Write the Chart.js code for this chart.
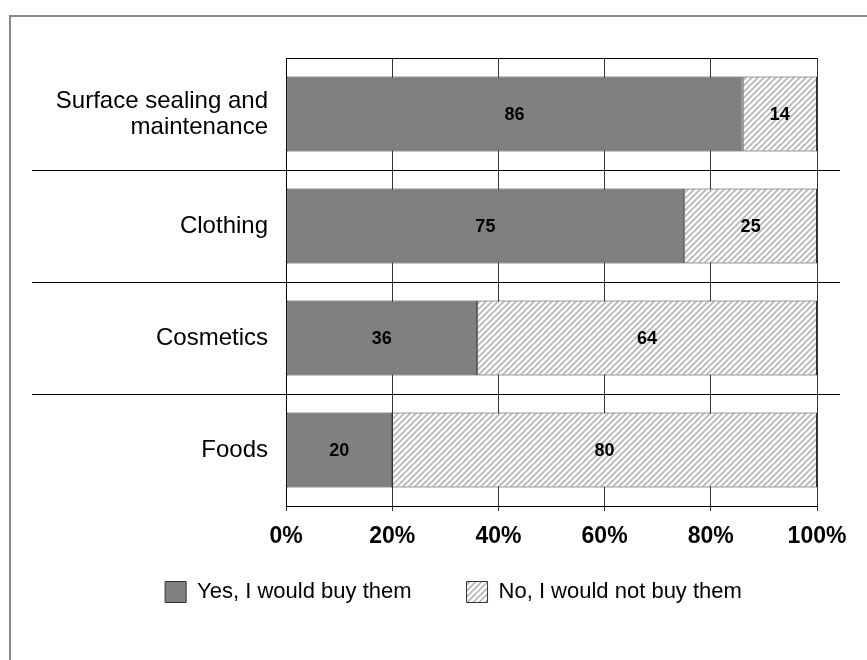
<!DOCTYPE html>
<html>
<head>
<meta charset="utf-8">
<script src="https://cdn.jsdelivr.net/npm/chart.js@4.4.1/dist/chart.umd.min.js"></script>
<style>
    html, body { margin: 0; padding: 0; background: #fff; }
    canvas { display: block; }
</style>
</head>
<body>
<canvas id="buyChart" width="867" height="660"></canvas>
<script>
    // Categories, series and axis labels
    const categories = [['Surface sealing and', 'maintenance'], 'Clothing', 'Cosmetics', 'Foods'];
    const yesValues = [86, 75, 36, 20];
    const noValues = [14, 25, 64, 80];
    const seriesNames = ['Yes, I would buy them', 'No, I would not buy them'];
    const xTickLabels = ['0%', '20%', '40%', '60%', '80%', '100%'];

    const fontFamily = "'Liberation Sans', Arial, sans-serif";

    // Diagonal stripe fill for the second series
    function makeHatch() {
        const size = 6;
        const tile = document.createElement('canvas');
        tile.width = size;
        tile.height = size;
        const tctx = tile.getContext('2d');
        const img = tctx.createImageData(size, size);
        for (let y = 0; y < size; y++) {
            for (let x = 0; x < size; x++) {
                const d = (x + y) % size;
                let v = 255;
                if (d === 0) v = 178;
                else if (d === 1) v = 192;
                else if (d === 2) v = 230;
                else if (d === 5) v = 236;
                const i = (y * size + x) * 4;
                img.data[i] = img.data[i + 1] = img.data[i + 2] = v;
                img.data[i + 3] = 255;
            }
        }
        tctx.putImageData(img, 0, 0);
        return tctx.createPattern(tile, 'repeat');
    }

    // Let tick labels run past the axis box instead of being clipped
    function noLabelClip(scale) {
        scale._computeLabelArea = () => undefined;
    }

    // Value text centred in each bar segment
    const segmentLabels = {
        id: 'segmentLabels',
        afterDatasetsDraw(chart) {
            const ctx = chart.ctx;
            ctx.save();
            ctx.font = 'bold 18px ' + fontFamily;
            ctx.fillStyle = '#000';
            ctx.textAlign = 'center';
            ctx.textBaseline = 'middle';
            chart.data.datasets.forEach((ds, di) => {
                const meta = chart.getDatasetMeta(di);
                meta.data.forEach((bar, i) => {
                    const p = bar.getProps(['x', 'y', 'base'], true);
                    ctx.fillText(String(ds.data[i]), (p.x + p.base) / 2, p.y + 1);
                });
            });
            ctx.restore();
        }
    };

    // Outer frame and long category separators
    const frameLines = {
        id: 'frameLines',
        beforeDraw(chart) {
            const ctx = chart.ctx;
            ctx.save();
            ctx.strokeStyle = '#8a8a8a';
            ctx.lineWidth = 2;
            ctx.beginPath();
            ctx.moveTo(10, chart.height);
            ctx.lineTo(10, 16);
            ctx.lineTo(chart.width, 16);
            ctx.stroke();
            ctx.restore();
        },
        afterDraw(chart) {
            const ctx = chart.ctx;
            const yScale = chart.scales.y;
            ctx.save();
            ctx.strokeStyle = '#000';
            ctx.lineWidth = 1;
            for (let i = 1; i < categories.length; i++) {
                const mid = (yScale.getPixelForTick(i - 1) + yScale.getPixelForTick(i)) / 2;
                const y = Math.round(mid - 0.5) + 0.5;
                ctx.beginPath();
                ctx.moveTo(32, y);
                ctx.lineTo(840, y);
                ctx.stroke();
            }
            ctx.restore();
        }
    };

    const ctx = document.getElementById('buyChart');
    new Chart(ctx, {
        type: 'bar',
        data: {
            labels: categories,
            datasets: [{
                label: seriesNames[0],
                data: yesValues,
                backgroundColor: '#808080',
                borderColor: '#333',
                borderWidth: 1,
                borderSkipped: false
            }, {
                label: seriesNames[1],
                data: noValues,
                backgroundColor: makeHatch(),
                borderColor: '#333',
                borderWidth: 1,
                borderSkipped: false
            }]
        },
        options: {
            indexAxis: 'y',
            responsive: false,
            animation: false,
            categoryPercentage: 1,
            barPercentage: 0.67,
            layout: {
                padding: { left: 90, right: 50, top: 58, bottom: 47 }
            },
            plugins: {
                tooltip: { enabled: false },
                legend: {
                    position: 'bottom',
                    labels: {
                        boxWidth: 21,
                        boxHeight: 21,
                        padding: 55,
                        color: '#000',
                        font: { size: 22, family: fontFamily }
                    }
                }
            },
            scales: {
                x: {
                    stacked: true,
                    min: 0,
                    max: 100,
                    afterFit(scale) {
                        scale.height = 20;
                        noLabelClip(scale);
                    },
                    ticks: {
                        stepSize: 20,
                        padding: 12,
                        color: '#000',
                        font: { size: 23, weight: 'bold', family: fontFamily },
                        callback: (v, i) => xTickLabels[i]
                    },
                    grid: { color: '#333', tickLength: 5 },
                    border: { color: '#000' }
                },
                y: {
                    stacked: true,
                    afterFit(scale) {
                        scale.width = 196;
                        noLabelClip(scale);
                    },
                    ticks: {
                        padding: 18,
                        color: '#000',
                        font: { size: 24, family: fontFamily, lineHeight: 1.08 }
                    },
                    grid: { color: '#000', drawTicks: false, offset: true },
                    border: { color: '#000' }
                }
            }
        },
        plugins: [segmentLabels, frameLines]
    });
</script>
</body>
</html>
